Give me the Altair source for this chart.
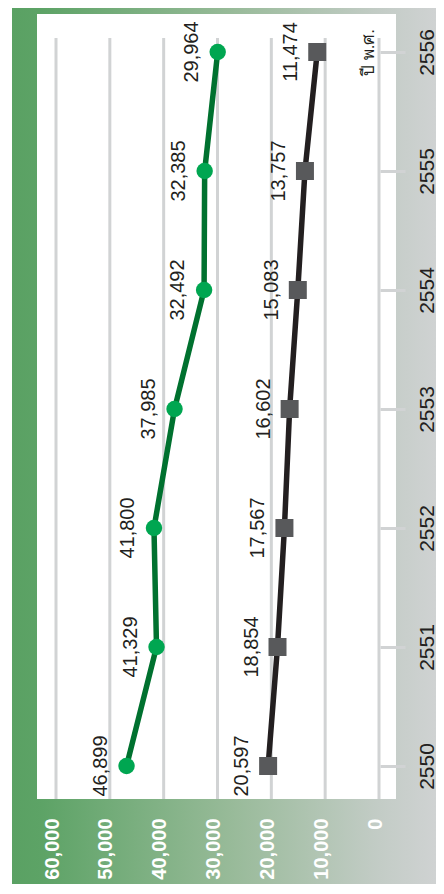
import altair as alt
import pandas as pd

# ---- data ----
years = [2550, 2551, 2552, 2553, 2554, 2555, 2556]
green_vals = [46899, 41329, 41800, 37985, 32492, 32385, 29964]
black_vals = [20597, 18854, 17567, 16602, 15083, 13757, 11474]
value_ticks = [0, 10000, 20000, 30000, 40000, 50000, 60000]
year_title = "ปี พ.ศ."

W, H = 359, 785
FONT = "Liberation Sans"

green_df = pd.DataFrame({"year": years, "value": green_vals})
black_df = pd.DataFrame({"year": years, "value": black_vals})
tick_df = pd.DataFrame({"tick": value_ticks})
bg_df = pd.DataFrame({"bg": [0]})

x_scale = alt.Scale(domain=[0, 60000], range=[342, 19], nice=False, zero=False)
y_scale = alt.Scale(domain=[2550, 2556], range=[752, 38], nice=False, zero=False)

x_axis = alt.Axis(
    orient="bottom", values=value_ticks, format=",d", domain=False, grid=False,
    ticks=False, tickSize=0, labelAngle=270, labelAlign="right",
    labelBaseline="middle", labelPadding=19, labelOffset=-4, labelFont=FONT,
    labelFontSize=20, labelFontWeight="bold", labelColor="white",
    labelFlush=False, labelOverlap=False, title=None, zindex=1,
)
y_axis = alt.Axis(
    orient="right", offset=-16, values=years, format="d", domain=False,
    grid=False, ticks=True, tickSize=25, tickWidth=3, tickColor="#D1D3D4",
    labelAngle=270, labelAlign="center", labelBaseline="top", labelPadding=11,
    labelFont=FONT, labelFontSize=21, labelColor="#231F20", labelFlush=False,
    labelOverlap=False, title=year_title, titleAngle=270, titleX=-7, titleY=38,
    titleAlign="center", titleBaseline="alphabetic", titleFont=FONT,
    titleFontSize=17, titleFontWeight="normal", titleColor="#231F20", zindex=1,
)


def X(field):
    return alt.X(f"{field}:Q", scale=x_scale, axis=x_axis)


def Y(field):
    return alt.Y(f"{field}:Q", scale=y_scale, axis=y_axis)


gradient = alt.LinearGradient(
    gradient="linear",
    stops=[
        alt.GradientStop(color="#5AA163", offset=0),
        alt.GradientStop(color="#5DA366", offset=0.07),
        alt.GradientStop(color="#97BA98", offset=0.5),
        alt.GradientStop(color="#C3CCC6", offset=0.85),
        alt.GradientStop(color="#D1D3D4", offset=1),
    ],
    x1=0, x2=1, y1=0, y2=0,
)

bg = alt.Chart(bg_df).mark_rect(fill=gradient).encode(
    x=alt.value(-25), x2=alt.value(407), y=alt.value(-6), y2=alt.value(880)
)
panel = alt.Chart(bg_df).mark_rect(fill="white").encode(
    x=alt.value(0), x2=alt.value(W), y=alt.value(0), y2=alt.value(H)
)
grid = alt.Chart(tick_df).mark_rule(color="#D1D3D4", strokeWidth=3).encode(
    x=X("tick"), y=alt.value(24), y2=alt.value(H)
)

green_line = alt.Chart(green_df).mark_line(color="#00712F", strokeWidth=5.5).encode(
    x=X("value"), y=Y("year"), order="year:Q"
)
black_line = alt.Chart(black_df).mark_line(color="#231F20", strokeWidth=5.5).encode(
    x=X("value"), y=Y("year"), order="year:Q"
)
green_pts = alt.Chart(green_df).mark_point(
    shape="circle", filled=True, size=270, color="#00A651", opacity=1
).encode(x=X("value"), y=Y("year"))
black_pts = alt.Chart(black_df).mark_point(
    shape="square", filled=True, size=324, color="#58595B", opacity=1
).encode(x=X("value"), y=Y("year"))

text_style = dict(angle=270, align="center", baseline="alphabetic", dy=-20,
                  fontSize=20, font=FONT, color="#231F20")
green_text = alt.Chart(green_df).mark_text(**text_style).encode(
    x=X("value"), y=Y("year"), text=alt.Text("value:Q", format=",d")
)
black_text = alt.Chart(black_df).mark_text(**text_style).encode(
    x=X("value"), y=Y("year"), text=alt.Text("value:Q", format=",d")
)

chart = alt.layer(
    bg, panel, grid, green_line, black_line, green_pts, black_pts,
    green_text, black_text,
).properties(
    width=W, height=H,
    autosize=alt.AutoSizeParams(type="none"),
    padding={"left": 29, "top": 6, "right": 40, "bottom": 85},
).configure_view(strokeWidth=0)

chart.save("out.html", embed_options={"renderer": "svg", "actions": False})
